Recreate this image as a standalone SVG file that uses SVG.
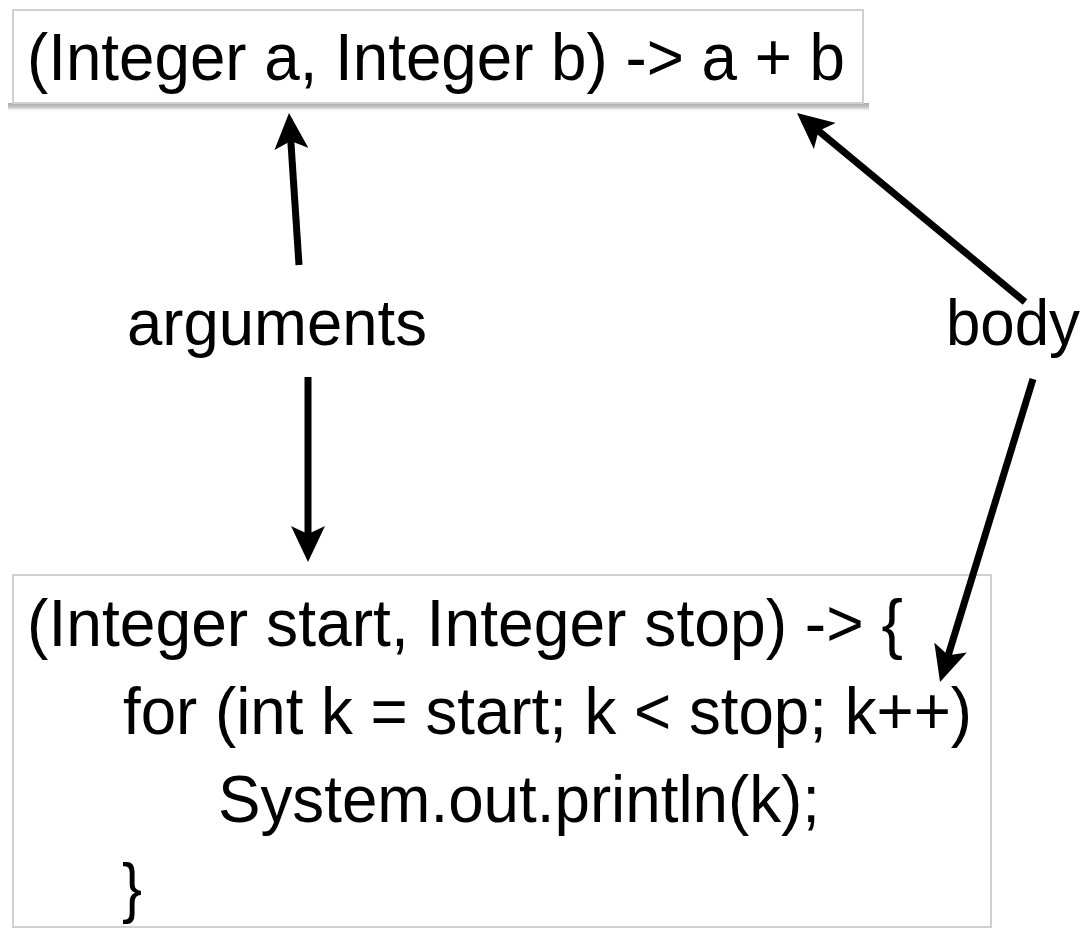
<svg xmlns="http://www.w3.org/2000/svg" width="1091" height="937" viewBox="0 0 1091 937">
<style>
.t{font-family:"Liberation Sans",Arial,sans-serif;font-size:64px;fill:#000}
.c{font-size:67px}
.box{fill:#fff;stroke:#d0d0d0;stroke-width:2}
.conn{stroke:#000;stroke-width:7;fill:none;marker-end:url(#ah)}
</style>
<defs>
<marker id="ah" viewBox="0 0 36 34" refX="16" refY="17" markerWidth="36" markerHeight="34" orient="auto" markerUnits="userSpaceOnUse">
<path d="M0,0 L36,17 L0,34 L8,17 Z" fill="#000"/>
</marker>
<linearGradient id="sh" x1="0" y1="0" x2="0" y2="1">
<stop offset="0" stop-color="#a8a8a8"/>
<stop offset="0.5" stop-color="#c8c8c8"/>
<stop offset="1" stop-color="#ffffff" stop-opacity="0"/>
</linearGradient>
</defs>
<rect width="1091" height="937" fill="#fff"/>
<g id="top-box">
<rect x="8" y="103" width="861" height="9" fill="url(#sh)"/>
<rect class="box" x="13" y="10" width="850" height="93"/>
<text class="t c" x="27" y="80" textLength="818" lengthAdjust="spacingAndGlyphs">(Integer a, Integer b) -&gt; a + b</text>
</g>
<g id="bottom-box">
<rect class="box" x="13" y="575" width="978" height="352"/>
<text class="t c" x="27" y="646" textLength="876" lengthAdjust="spacingAndGlyphs">(Integer start, Integer stop) -&gt; {</text>
<text class="t c" x="123" y="734" textLength="849" lengthAdjust="spacingAndGlyphs">for (int k = start; k &lt; stop; k++)</text>
<text class="t c" x="218" y="822" textLength="602" lengthAdjust="spacingAndGlyphs">System.out.println(k);</text>
<text class="t c" x="122" y="910" textLength="20" lengthAdjust="spacingAndGlyphs">}</text>
</g>
<g id="arguments">
<text class="t" x="127" y="345" textLength="300" lengthAdjust="spacingAndGlyphs">arguments</text>
</g>
<g id="body">
<text class="t" x="946" y="345" textLength="134" lengthAdjust="spacingAndGlyphs">body</text>
</g>
<g id="connectors">
<line class="conn" x1="299" y1="265" x2="290.3" y2="133"/>
<line class="conn" x1="308" y1="377" x2="308" y2="542"/>
<line class="conn" x1="1025" y1="302" x2="812.4" y2="125.8"/>
<line class="conn" x1="1033" y1="379" x2="945.9" y2="662.9"/>
</g>
</svg>
